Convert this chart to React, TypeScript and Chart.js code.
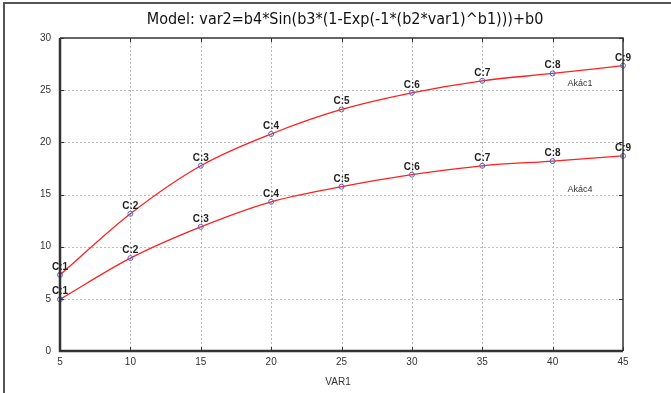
import React, { useEffect, useRef } from "react";
import { Chart, registerables } from "chart.js";

Chart.register(...registerables);

const titleText = "Model: var2=b4*Sin(b3*(1-Exp(-1*(b2*var1)^b1)))+b0";
const xAxisTitle = "VAR1";
const xValues = [5, 10, 15, 20, 25, 30, 35, 40, 45];
const pointLabels = ["C:1", "C:2", "C:3", "C:4", "C:5", "C:6", "C:7", "C:8", "C:9"];
const akac1 = [7.3, 13.15, 17.75, 20.8, 23.15, 24.75, 25.9, 26.6, 27.35];
const akac4 = [4.95, 8.9, 11.9, 14.3, 15.75, 16.9, 17.75, 18.2, 18.7];
const seriesNames = ["Akác1", "Akác4"];
const xTicks = [5, 10, 15, 20, 25, 30, 35, 40, 45];
const yTicks = [0, 5, 10, 15, 20, 25, 30];

const LABEL_FONT = '"Liberation Sans", Arial, sans-serif';

const decor = {
  id: "decor",
  beforeDatasetsDraw(chart: any) {
    const { ctx, chartArea, scales } = chart;
    const { left, right, top, bottom } = chartArea;
    const x = scales.x;
    const y = scales.y;
    ctx.save();
    ctx.strokeStyle = "#bcbcbc";
    ctx.lineWidth = 1;
    ctx.setLineDash([2, 2]);
    xTicks.forEach((v) => {
      const px = Math.round(x.getPixelForValue(v)) + 0.5;
      if (px > left + 2 && px < right - 2) {
        ctx.beginPath();
        ctx.moveTo(px, top);
        ctx.lineTo(px, bottom);
        ctx.stroke();
      }
    });
    yTicks.forEach((v) => {
      const py = Math.round(y.getPixelForValue(v)) + 0.5;
      if (py > top + 2 && py < bottom - 2) {
        ctx.beginPath();
        ctx.moveTo(left, py);
        ctx.lineTo(right, py);
        ctx.stroke();
      }
    });
    ctx.restore();
  },
  afterDatasetsDraw(chart: any) {
    const { ctx, chartArea, scales } = chart;
    const { left, right, top, bottom } = chartArea;
    const x = scales.x;
    const y = scales.y;
    ctx.save();
    // frame
    ctx.strokeStyle = "#333";
    ctx.lineWidth = 1.5;
    ctx.beginPath();
    ctx.moveTo(left, top);
    ctx.lineTo(right, top);
    ctx.lineTo(right, bottom);
    ctx.stroke();
    ctx.lineWidth = 2.5;
    ctx.beginPath();
    ctx.moveTo(left, top);
    ctx.lineTo(left, bottom);
    ctx.lineTo(right, bottom);
    ctx.stroke();
    // inner tick marks
    ctx.lineWidth = 1;
    const tl = 4;
    xTicks.forEach((v) => {
      const px = Math.round(x.getPixelForValue(v)) + 0.5;
      ctx.beginPath();
      ctx.moveTo(px, bottom);
      ctx.lineTo(px, bottom - tl);
      ctx.moveTo(px, top);
      ctx.lineTo(px, top + tl);
      ctx.stroke();
    });
    yTicks.forEach((v) => {
      const py = Math.round(y.getPixelForValue(v)) + 0.5;
      ctx.beginPath();
      ctx.moveTo(left, py);
      ctx.lineTo(left + tl, py);
      ctx.moveTo(right, py);
      ctx.lineTo(right - tl, py);
      ctx.stroke();
    });
    // point labels
    ctx.fillStyle = "#222";
    ctx.font = "bold 10px " + LABEL_FONT;
    ctx.textAlign = "center";
    ctx.textBaseline = "alphabetic";
    [akac1, akac4].forEach((series) => {
      series.forEach((v, i) => {
        const px = x.getPixelForValue(xValues[i]);
        const py = y.getPixelForValue(v);
        ctx.fillText(pointLabels[i], px, py - 5);
      });
    });
    // series names
    ctx.font = "9px " + LABEL_FONT;
    ctx.fillStyle = "#333";
    ctx.textBaseline = "middle";
    ctx.fillText(seriesNames[0], x.getPixelForValue(41.95), y.getPixelForValue(25.6));
    ctx.fillText(seriesNames[1], x.getPixelForValue(41.95), y.getPixelForValue(15.45));
    // title
    ctx.fillStyle = "#111";
    ctx.font = '16px "Liberation Sans Narrow", "DejaVu Sans Condensed", sans-serif';
    ctx.textBaseline = "middle";
    ctx.fillText(titleText, 345, 20);
    // axis title
    ctx.fillStyle = "#333";
    ctx.font = "10px " + LABEL_FONT;
    ctx.fillText(xAxisTitle, 338, 382);
    // outer border
    ctx.strokeStyle = "#555";
    ctx.lineWidth = 2;
    ctx.beginPath();
    ctx.moveTo(4, 393);
    ctx.lineTo(4, 3);
    ctx.lineTo(671, 3);
    ctx.stroke();
    ctx.restore();
  },
};

export default function App() {
  const ref = useRef<HTMLCanvasElement | null>(null);
  useEffect(() => {
    if (!ref.current) return;
    const mk = (vals: number[]) => xValues.map((xv, i) => ({ x: xv, y: vals[i] }));
    const ds = (label: string, vals: number[]) => ({
      label,
      data: mk(vals),
      borderColor: "#ff1f1f",
      borderWidth: 1.3,
      pointRadius: 2.5,
      pointBorderColor: "#4f63c9",
      pointBackgroundColor: "rgba(255,255,255,0)",
      pointBorderWidth: 1,
      cubicInterpolationMode: "monotone" as const,
      clip: false as any,
    });
    const chart = new Chart(ref.current, {
      type: "line",
      data: { datasets: [ds(seriesNames[0], akac1), ds(seriesNames[1], akac4)] },
      options: {
        animation: false,
        responsive: false,
        layout: { padding: { top: 38, right: 48, left: 0, bottom: 0 } },
        plugins: { legend: { display: false }, tooltip: { enabled: false }, title: { display: false } },
        scales: {
          x: {
            type: "linear",
            min: 5,
            max: 45,
            afterFit: (s: any) => { s.height = 42; },
            grid: { display: false, drawTicks: false },
            border: { display: false },
            ticks: {
              stepSize: 5,
              autoSkip: false,
              padding: 5,
              color: "#333",
              font: { family: LABEL_FONT, size: 10 },
            },
          },
          y: {
            min: 0,
            max: 30,
            afterFit: (s: any) => { s.width = 60; },
            grid: { display: false, drawTicks: false },
            border: { display: false },
            ticks: {
              stepSize: 5,
              autoSkip: false,
              padding: 9,
              color: "#333",
              font: { family: LABEL_FONT, size: 10 },
            },
          },
        },
      },
      plugins: [decor],
    });
    return () => chart.destroy();
  }, []);
  return (
    <div style={{ position: "fixed", left: 0, top: 0, width: 671, height: 393, background: "#fff" }}>
      <canvas ref={ref} width={671} height={393} style={{ display: "block" }} />
    </div>
  );
}
